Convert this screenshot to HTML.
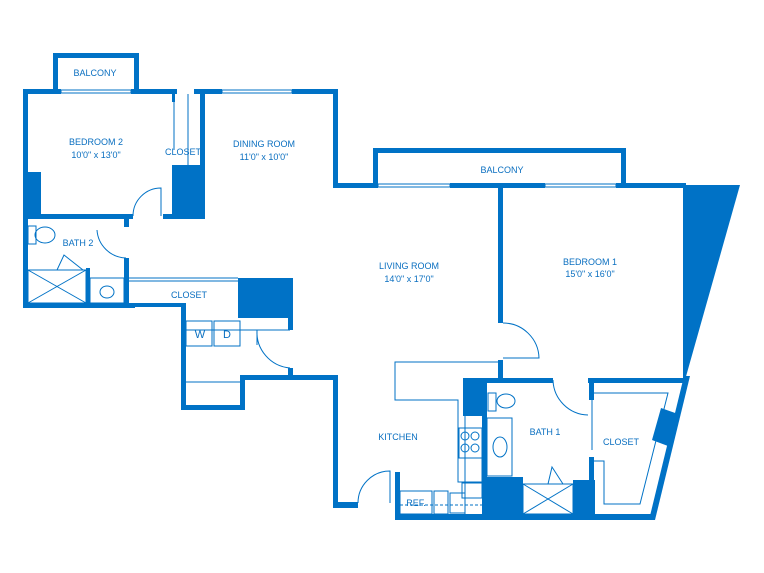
<!DOCTYPE html>
<html><head><style>
html,body{margin:0;padding:0;background:#fff;}
svg{display:block}
text{font-family:"Liberation Sans",sans-serif;font-size:9px;fill:#0a6fc0;text-anchor:middle}
</style></head><body>
<svg width="764" height="573" viewBox="0 0 764 573" xmlns="http://www.w3.org/2000/svg">
<g fill="#0072c6" stroke="none">
<rect x="53" y="53" width="86" height="5"/>
<rect x="53" y="53" width="5" height="40"/>
<rect x="134" y="53" width="5" height="40"/>
<rect x="23" y="89" width="38" height="5"/>
<rect x="131" y="89" width="46" height="5"/>
<rect x="194" y="89" width="28" height="5"/>
<rect x="292" y="89" width="46" height="5"/>
<rect x="23" y="89" width="5" height="218"/>
<rect x="28" y="172" width="13" height="44"/>
<rect x="23" y="303" width="112" height="5"/>
<rect x="28" y="214" width="105" height="5"/>
<rect x="163" y="214" width="42" height="5"/>
<rect x="172" y="165" width="33" height="54"/>
<rect x="172" y="94" width="3" height="8"/>
<rect x="200" y="94" width="5" height="125"/>
<rect x="124" y="219" width="5" height="8"/>
<rect x="124" y="258" width="5" height="50"/>
<rect x="86" y="268" width="4" height="37"/>
<rect x="333" y="89" width="5" height="99"/>
<rect x="333" y="183" width="45" height="5"/>
<rect x="373" y="148" width="253" height="5"/>
<rect x="373" y="148" width="5" height="40"/>
<rect x="621" y="148" width="5" height="40"/>
<rect x="450" y="183" width="95" height="5"/>
<rect x="616" y="183" width="70" height="5"/>
<polygon points="683,185 740,185 685,380 683,380"/>
<polygon points="684,376 690,376 655,520 649,520"/>
<rect x="498" y="188" width="5" height="135"/>
<rect x="498" y="360" width="5" height="22"/>
<rect x="463" y="378" width="90" height="5"/>
<rect x="588" y="378" width="98" height="5"/>
<rect x="463" y="378" width="24" height="38"/>
<rect x="482" y="378" width="5" height="142"/>
<rect x="483" y="477" width="40" height="43"/>
<rect x="573" y="480" width="22" height="40"/>
<rect x="589" y="380" width="5" height="20"/>
<rect x="589" y="457" width="5" height="63"/>
<rect x="395" y="514" width="258" height="6"/>
<rect x="395" y="472" width="5" height="48"/>
<polygon points="661,408 678,414 668,446 652,440"/>
<rect x="333" y="377" width="5" height="131"/>
<rect x="333" y="502" width="25" height="6"/>
<rect x="240" y="375" width="98" height="5"/>
<rect x="240" y="375" width="5" height="35"/>
<rect x="181" y="405" width="64" height="5"/>
<rect x="181" y="303" width="5" height="107"/>
<rect x="238" y="278" width="55" height="40"/>
<rect x="288" y="318" width="5" height="12"/>
<rect x="288" y="368" width="5" height="12"/>
<rect x="129" y="303" width="57" height="4"/>
</g>
<g fill="none" stroke="#0072c6" stroke-width="1">
<rect x="61" y="90" width="70" height="3"/>
<rect x="222" y="90" width="70" height="3"/>
<rect x="378" y="184" width="72" height="3"/>
<rect x="545" y="184" width="71" height="3"/>
<line x1="188" y1="94" x2="188" y2="165"/>
<line x1="174" y1="102" x2="174" y2="150"/>
<path d="M133,216 A28,28 0 0 1 161,188 L161,216"/>
<path d="M97,230 A30,30 0 0 0 126,258"/>
<path d="M503,323 A36,36 0 0 1 539,358 L503,358"/>
<path d="M553,380 A36,36 0 0 0 588,415"/>
<path d="M257,330 A36,36 0 0 0 290,368"/>
<line x1="257" y1="330" x2="257" y2="345"/>
<path d="M358,503 A32,32 0 0 1 390,471 L390,503"/>
<rect x="28" y="226" width="8" height="18"/>
<ellipse cx="45" cy="235" rx="10" ry="8"/>
<rect x="28" y="270" width="58" height="33"/>
<line x1="28" y1="270" x2="86" y2="303"/><line x1="28" y1="303" x2="86" y2="270"/>
<path d="M57,270 L64,255 L83,270"/>
<rect x="90" y="278" width="34" height="25"/>
<ellipse cx="107" cy="292" rx="7" ry="6"/>
<line x1="129" y1="278" x2="238" y2="278"/>
<line x1="129" y1="281" x2="238" y2="281"/>
<line x1="186" y1="330" x2="290" y2="330"/>
<rect x="186" y="321" width="26" height="25"/>
<rect x="214" y="321" width="26" height="25"/>
<line x1="186" y1="382" x2="240" y2="382"/>
<path d="M498,362 L395,362 L395,400 L458,400 L458,470"/>
<line x1="465" y1="415" x2="465" y2="515"/>
<rect x="459" y="428" width="23" height="30"/>
<circle cx="465" cy="436" r="4"/><circle cx="475" cy="436" r="4"/>
<circle cx="465" cy="448" r="4"/><circle cx="475" cy="448" r="4"/>
<rect x="458" y="458" width="24" height="24"/>
<rect x="400" y="491" width="32" height="23"/>
<rect x="434" y="491" width="14" height="23"/>
<rect x="450" y="493" width="15" height="20"/>
<rect x="462" y="483" width="20" height="15"/>
<line x1="400" y1="505" x2="482" y2="505" stroke-dasharray="3,2"/>
<rect x="488" y="393" width="8" height="18"/>
<ellipse cx="506" cy="401" rx="9" ry="7"/>
<rect x="487" y="418" width="25" height="58"/>
<ellipse cx="500" cy="447" rx="7" ry="10"/>
<rect x="523" y="484" width="50" height="30"/>
<line x1="523" y1="484" x2="573" y2="514"/><line x1="523" y1="514" x2="573" y2="484"/>
<path d="M548,484 L552,467 L563,484"/>
<path d="M594,393 L668,393 L640,504 L604,504 L604,461 L594,461"/>
<line x1="592" y1="400" x2="592" y2="450"/>
</g>
<text x="95" y="76">BALCONY</text>
<text x="96" y="145">BEDROOM 2</text>
<text x="96" y="158">10'0" x 13'0"</text>
<text x="183" y="155">CLOSET</text>
<text x="264" y="147">DINING ROOM</text>
<text x="264" y="160">11'0" x 10'0"</text>
<text x="502" y="173">BALCONY</text>
<text x="78" y="246">BATH 2</text>
<text x="189" y="298">CLOSET</text>
<text x="409" y="269">LIVING ROOM</text>
<text x="409" y="282">14'0" x 17'0"</text>
<text x="590" y="265">BEDROOM 1</text>
<text x="590" y="277">15'0" x 16'0"</text>
<text x="200" y="338" style="font-size:11px">W</text>
<text x="227" y="338" style="font-size:11px">D</text>
<text x="398" y="440">KITCHEN</text>
<text x="545" y="435">BATH 1</text>
<text x="621" y="445">CLOSET</text>
<text x="416" y="506">REF.</text>
</svg>
</body></html>
